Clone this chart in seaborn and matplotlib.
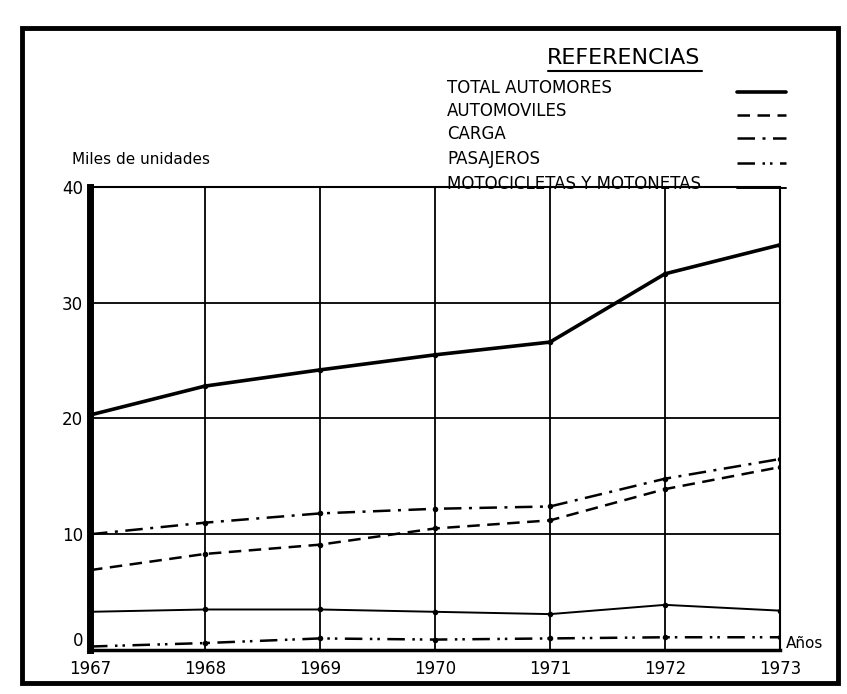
import matplotlib
matplotlib.use("Agg")
import matplotlib.pyplot as plt
import seaborn as sns
import pandas as pd
from matplotlib.lines import Line2D
from matplotlib.patches import Rectangle

years = [1967, 1968, 1969, 1970, 1971, 1972, 1973]
total_automotores = [20.3, 22.8, 24.2, 25.5, 26.6, 32.5, 35.0]
automoviles = [6.9, 8.3, 9.1, 10.5, 11.2, 13.9, 15.8]
carga = [10.0, 11.0, 11.8, 12.2, 12.4, 14.8, 16.5]
pasajeros = [0.3, 0.6, 1.0, 0.9, 1.0, 1.1, 1.1]
motocicletas = [3.3, 3.5, 3.5, 3.3, 3.1, 3.9, 3.4]
series_names = ["TOTAL AUTOMORES", "AUTOMOVILES", "CARGA", "PASAJEROS",
                "MOTOCICLETAS Y MOTONETAS"]
y_ticks = [0, 10, 20, 30, 40]

sns.set_theme(style="white")
FONT = ['DejaVu Sans']
plt.rcParams['font.family'] = FONT
plt.rcParams['text.color'] = 'black'
plt.rcParams['xtick.color'] = 'black'
plt.rcParams['ytick.color'] = 'black'

fig = plt.figure(figsize=(8.47, 6.94), dpi=100)
fig.patch.set_facecolor("white")
W, H = 847, 694

def fx(px):
    return px / W

def fy(py):
    return 1 - py / H

ax = fig.add_axes([fx(90), fy(650), fx(780) - fx(90), fy(187) - fy(650)])
ax.set_facecolor("white")

df = pd.DataFrame({"year": years * 5,
                   "value": total_automotores + automoviles + carga + pasajeros + motocicletas,
                   "serie": sum([[n] * len(years) for n in series_names], [])})

styles = {
    "TOTAL AUTOMORES": dict(lw=2.6, ls="-"),
    "AUTOMOVILES": dict(lw=1.8, ls=(0, (5, 3))),
    "CARGA": dict(lw=1.8, ls=(0, (7, 3, 1.2, 3))),
    "PASAJEROS": dict(lw=1.8, ls=(0, (7, 3, 1, 2, 1, 3))),
    "MOTOCICLETAS Y MOTONETAS": dict(lw=1.4, ls="-"),
}

for name in series_names:
    sub = df[df["serie"] == name]
    sns.lineplot(data=sub, x="year", y="value", ax=ax, color="black",
                 marker="o", markersize=4, markeredgewidth=0,
                 linewidth=styles[name]["lw"], linestyle=styles[name]["ls"],
                 legend=False, zorder=3)

ax.set_xlim(years[0], years[-1])
ax.set_ylim(0, 40)
ax.set_xticks(years)
ax.set_yticks(y_ticks)
ax.set_xticklabels([str(y) for y in years], fontsize=12, family=FONT)
ax.set_yticklabels([str(v) for v in y_ticks], fontsize=12, family=FONT)
ax.tick_params(axis="x", length=0, pad=7)
ax.tick_params(axis="y", length=0, pad=5)
ax.get_yticklabels()[0].set_verticalalignment("bottom")
ax.set_xlabel("")
ax.set_ylabel("")
ax.grid(True, color="black", linewidth=1.3)
for side, sp in ax.spines.items():
    sp.set_color("black")
    sp.set_linewidth(1.5)
ax.spines["left"].set_linewidth(5)
ax.spines["bottom"].set_linewidth(2.5)

# labels
fig.text(fx(72), fy(160), "Miles de unidades", fontsize=11, family=FONT,
         ha="left", va="center")
fig.text(fx(786), fy(644), "Años", fontsize=11, family=FONT, ha="left", va="center")

# references block
fig.text(fx(624), fy(58), "REFERENCIAS", fontsize=16, family=FONT,
         ha="center", va="center")
fig.add_artist(Line2D([fx(548), fx(702)], [fy(71), fy(71)], color="black", lw=1.5))
leg_y = [88, 111, 134, 159, 184]
for name, yy in zip(series_names, leg_y):
    fig.text(fx(447), fy(yy), name, fontsize=12, family=FONT, ha="left", va="center")
    fig.add_artist(Line2D([fx(737), fx(786)], [fy(yy + 4), fy(yy + 4)], color="black",
                          lw=styles[name]["lw"], linestyle=styles[name]["ls"]))

# outer frame
fig.add_artist(Rectangle((fx(22), fy(683)), fx(838) - fx(22), fy(28) - fy(683),
                         fill=False, edgecolor="black", lw=3.5,
                         transform=fig.transFigure))

fig.savefig("out.png", dpi=100, facecolor="white")
